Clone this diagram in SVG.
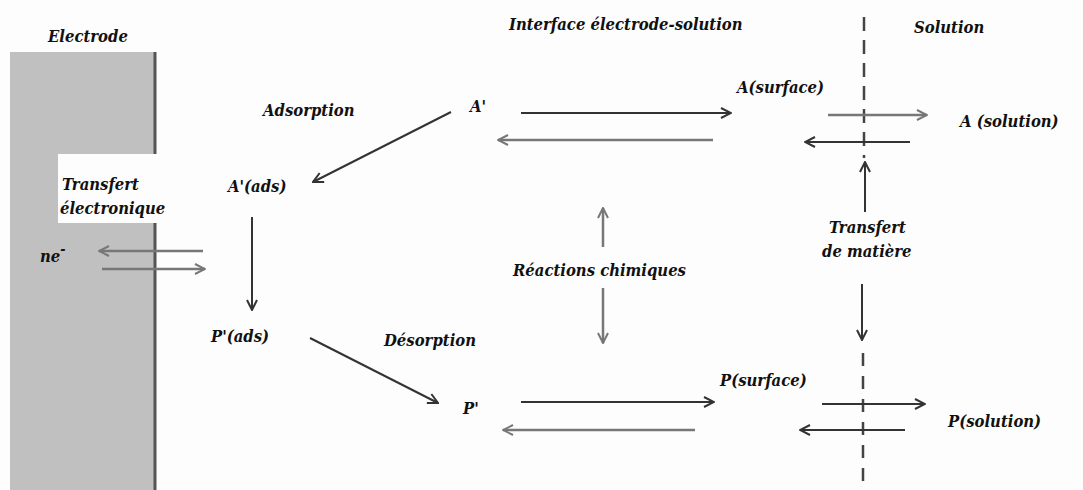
<svg xmlns="http://www.w3.org/2000/svg" width="1083" height="490" viewBox="0 0 1083 490">
<style>
text{font-family:"DejaVu Serif",serif;font-stretch:condensed;font-style:italic;font-weight:bold;font-size:16.5px;fill:#111}
.a{stroke:#333;stroke-width:2;fill:none;marker-end:url(#ah)}
.b{stroke:#777;stroke-width:2.5;fill:none;marker-end:url(#ahl)}
</style>
<defs>
<marker id="ah" viewBox="0 0 12 12" refX="11" refY="6" markerWidth="12" markerHeight="12" markerUnits="userSpaceOnUse" orient="auto"><path d="M1,1 L11,6 L1,11" fill="none" stroke="#333" stroke-width="2"/></marker>
<marker id="ahl" viewBox="0 0 12 12" refX="11" refY="6" markerWidth="12" markerHeight="12" markerUnits="userSpaceOnUse" orient="auto"><path d="M1,1 L11,6 L1,11" fill="none" stroke="#777" stroke-width="2"/></marker>
</defs>
<rect width="1083" height="490" fill="#fdfdfd"/>
<g id="electrode">
<rect x="10" y="52" width="146" height="438" fill="#c0c0c0"/>
<line x1="155" y1="52" x2="155" y2="490" stroke="#555" stroke-width="3"/>
<rect x="58" y="154" width="100" height="69" fill="#fdfdfd"/>
<text x="48" y="42">Electrode</text>
</g>
<g id="labels">
<text x="509" y="30">Interface électrode-solution</text>
<text x="914" y="33">Solution</text>
<text x="263" y="116">Adsorption</text>
<text x="62" y="190">Transfert</text>
<text x="60" y="214">électronique</text>
<text x="384" y="346">Désorption</text>
<text x="513" y="276">Réactions chimiques</text>
<text x="829" y="233">Transfert</text>
<text x="822" y="257">de matière</text>
</g>
<g id="n-ne"><text x="40" y="262">ne<tspan dy="-8" font-size="14">-</tspan></text></g>
<g id="n-Aprime"><text x="470" y="112">A'</text></g>
<g id="n-Aads"><text x="228" y="192">A'(ads)</text></g>
<g id="n-Pads"><text x="211" y="342">P'(ads)</text></g>
<g id="n-Pprime"><text x="463" y="414">P'</text></g>
<g id="n-Asurf"><text x="737" y="93">A(surface)</text></g>
<g id="n-Psurf"><text x="720" y="386">P(surface)</text></g>
<g id="n-Asol"><text x="960" y="127">A (solution)</text></g>
<g id="n-Psol"><text x="948" y="427">P(solution)</text></g>
<g id="connectors">
<line x1="864" y1="17" x2="864" y2="158" stroke="#444" stroke-width="2.5" stroke-dasharray="14,9"/>
<line x1="863" y1="353" x2="863" y2="490" stroke="#444" stroke-width="2.5" stroke-dasharray="13,10"/>
<line class="b" x1="203" y1="251" x2="99" y2="251"/>
<line class="b" x1="102" y1="269" x2="205" y2="269"/>
<line class="a" x1="252" y1="217" x2="252" y2="310"/>
<line class="a" x1="451" y1="112" x2="313" y2="182"/>
<line class="a" x1="310" y1="338" x2="438" y2="403"/>
<line class="a" x1="521" y1="113" x2="731" y2="113"/>
<line class="b" x1="713" y1="140" x2="498" y2="140"/>
<line class="b" x1="828" y1="115" x2="927" y2="115"/>
<line class="a" x1="910" y1="142" x2="805" y2="142"/>
<line class="a" x1="865" y1="212" x2="865" y2="162"/>
<line class="a" x1="862" y1="284" x2="862" y2="340"/>
<line class="a" x1="521" y1="402" x2="714" y2="402"/>
<line class="b" x1="695" y1="430" x2="503" y2="430"/>
<line class="a" x1="822" y1="404" x2="925" y2="404"/>
<line class="a" x1="905" y1="430" x2="800" y2="430"/>
<line class="b" x1="603" y1="247" x2="603" y2="208"/>
<line class="b" x1="603" y1="288" x2="603" y2="343"/>
</g>
</svg>
